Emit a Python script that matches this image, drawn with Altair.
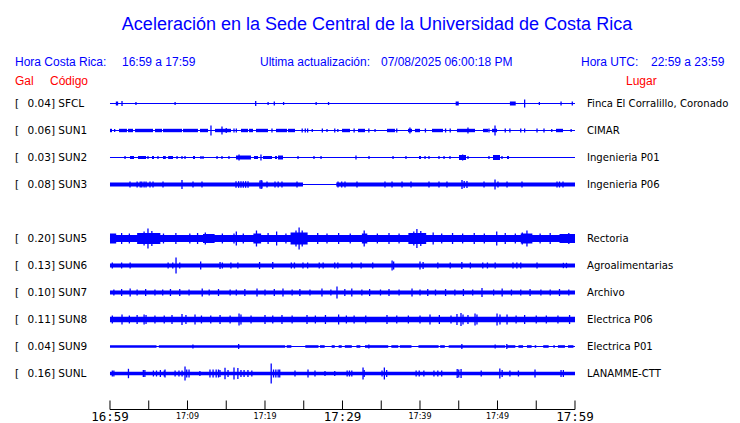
import altair as alt
import pandas as pd

BLUE = "#0000ff"
RED = "#ff0000"

# ---------------- data ----------------
stations = ["SFCL", "SUN1", "SUN2", "SUN3", "SUN5", "SUN6", "SUN7", "SUN8", "SUN9", "SUNL"]
gal_max = ["0.04", "0.06", "0.03", "0.08", "0.20", "0.13", "0.10", "0.11", "0.04", "0.16"]
places = ["Finca El Corralillo, Coronado", "CIMAR", "Ingenieria P01", "Ingenieria P06",
          "Rectoria", "Agroalimentarias", "Archivo", "Electrica P06", "Electrica P01", "LANAMME-CTT"]
slots = [0, 1, 2, 3, 5, 6, 7, 8, 9, 10]

tick_minutes = [0, 5, 10, 15, 20, 25, 30, 35, 40, 45, 50, 55, 60]
label_minutes = [0, 10, 20, 30, 40, 50, 60]
label_texts = ["16:59", "17:09", "17:19", "17:29", "17:39", "17:49", "17:59"]
label_big = [True, False, False, True, False, False, True]

# envelopes: (start minute, end minute, half amplitude) ; spikes: (minute, half amplitude)
sfcl_bands = [(0.75, 1.05, 2.0), (44.6, 45.0, 2.0), (51.6, 52.35, 2.0)]
sfcl_spikes = [(1.55, 2.5), (3.35, 1.5), (8.4, 1.5), (18.8, 2.5), (20.4, 1.5), (21.2, 2.0), (22.4, 1.5),
               (26.6, 1.5), (28.2, 1.5), (53.5, 4.0), (55.4, 1.5), (58.2, 2.0), (59.65, 2.0)]

sun1_bands = [(0.0, 0.26, 1.7), (1.16, 2.19, 1.7), (2.32, 2.97, 1.7), (3.23, 5.55, 1.7), (5.81, 6.71, 1.7),
              (6.84, 9.29, 1.7), (9.42, 11.35, 1.7), (11.61, 12.65, 1.7), (13.55, 15.61, 1.7),
              (16.9, 17.81, 1.7), (17.94, 18.45, 1.7), (18.84, 20.39, 1.7), (21.42, 22.84, 1.7),
              (22.97, 23.87, 1.7), (29.94, 30.97, 1.7), (32.0, 32.9, 1.7), (35.74, 36.77, 1.7),
              (38.45, 38.97, 1.7), (39.35, 40.0, 1.7), (41.55, 42.97, 1.7), (44.77, 47.1, 1.7),
              (48.13, 48.77, 1.7), (49.29, 49.94, 1.7), (57.55, 58.45, 1.7)]
sun1_spikes = [(0.6, 1.5), (13.03, 5.0), (14.45, 4.0), (15.0, 2.5), (16.0, 2.0), (16.3, 2.0), (20.9, 2.0),
               (24.8, 2.0), (25.2, 2.0), (25.5, 2.0), (26.1, 1.5), (27.4, 2.0), (28.0, 1.5), (29.0, 2.0),
               (29.4, 1.5), (30.1, 1.5), (31.5, 2.0), (33.4, 2.0), (34.2, 1.5), (37.0, 2.0), (38.7, 3.0),
               (40.7, 2.0), (43.3, 2.0), (43.9, 2.0), (46.19, 3.0), (48.9, 2.0), (49.68, 5.0), (51.0, 2.0),
               (51.6, 2.0), (53.0, 2.0), (53.5, 2.0), (55.1, 2.0), (56.0, 2.0), (57.0, 1.5), (59.5, 1.5)]

sun2_bands = [(2.58, 3.1, 1.5), (3.61, 4.65, 1.5), (5.42, 5.68, 1.5), (6.84, 7.2, 1.5), (7.5, 8.13, 1.5),
              (10.71, 10.97, 1.5), (16.26, 18.19, 2.0), (18.58, 19.1, 1.5), (19.74, 20.9, 1.5),
              (21.29, 21.55, 1.5), (21.68, 22.32, 2.0), (39.87, 40.13, 1.5), (45.03, 45.94, 2.5),
              (49.42, 50.32, 2.5), (51.23, 51.48, 1.5)]
sun2_spikes = [(1.94, 1.5), (4.9, 1.5), (6.19, 1.5), (8.65, 1.5), (9.29, 1.5), (9.68, 1.5), (11.74, 1.5),
               (12.0, 1.5), (13.81, 1.5), (14.45, 1.5), (15.35, 1.5), (16.65, 3.0), (19.48, 3.0),
               (24.26, 1.5), (26.32, 1.5), (27.23, 1.5), (31.74, 2.0), (33.42, 1.5), (36.52, 1.5),
               (38.19, 1.5), (40.65, 1.5), (41.16, 1.5), (42.45, 1.5), (43.1, 1.5), (43.87, 1.5),
               (45.5, 3.0), (46.19, 1.5), (48.9, 1.5), (50.58, 1.5)]

sun3_bands = [(0.0, 24.9, 2.0), (29.2, 60.0, 2.0)]
sun3_spikes = [(2.58, 3.0), (3.5, 3.0), (3.9, 3.0), (4.1, 3.0), (4.4, 3.0), (4.65, 3.0), (5.16, 3.0),
               (5.55, 3.0), (6.84, 3.0), (9.29, 4.5), (10.71, 3.0), (11.87, 3.0), (16.26, 3.3),
               (16.6, 3.3), (16.9, 3.3), (17.2, 3.3), (17.5, 3.3), (17.81, 3.3), (19.35, 4.0),
               (19.5, 4.5), (19.61, 4.0), (20.26, 3.0), (21.29, 3.0), (21.7, 3.0), (22.19, 3.0),
               (24.13, 3.0), (29.42, 3.0), (29.9, 3.0), (30.32, 3.0), (31.87, 3.0), (35.48, 3.0),
               (36.39, 3.0), (37.68, 3.0), (38.84, 3.0), (41.16, 3.0), (42.45, 3.0), (43.48, 3.0),
               (45.42, 4.5), (45.7, 3.5), (46.06, 3.5), (48.26, 3.0), (49.68, 5.0), (50.06, 3.0),
               (51.23, 3.0), (53.16, 3.0), (57.68, 3.0), (58.0, 3.0), (58.45, 3.0)]

sun5_bands = [(0.0, 60.0, 3.5), (0.0, 0.8, 5.0), (3.5, 6.5, 5.5), (12.0, 13.5, 4.5), (18.5, 19.5, 5.0),
              (23.3, 25.5, 6.0), (32.5, 33.2, 5.0), (38.5, 40.8, 5.5), (53.0, 54.5, 5.0), (58.0, 60.0, 4.5)]
sun5_spikes = [(4.9, 10.0), (4.4, 7.0), (5.4, 7.5), (16.3, 7.0), (18.9, 8.0), (21.5, 7.0), (24.4, 11.0),
               (24.0, 8.0), (24.8, 8.0), (32.8, 8.0), (39.6, 9.5), (39.2, 7.0), (40.1, 7.5), (41.7, 6.0),
               (49.9, 7.0), (53.8, 8.0), (53.2, 6.0), (1.5, 5.5), (2.5, 5.0), (6.9, 5.0), (8.5, 5.5),
               (10.3, 5.0), (11.3, 5.5), (12.3, 6.0), (14.5, 5.0), (16.0, 5.0), (17.2, 5.0), (20.4, 5.5),
               (22.7, 5.0), (26.8, 5.5), (28.0, 5.0), (29.5, 5.5), (31.0, 5.0), (34.5, 5.0), (36.0, 5.5),
               (37.3, 5.0), (42.8, 5.0), (44.2, 5.5), (45.5, 5.0), (47.0, 5.5), (48.3, 5.0), (51.0, 5.5),
               (52.3, 5.0), (55.5, 5.0), (56.8, 5.5), (59.2, 5.5)]

sun6_bands = [(0.0, 60.0, 2.0)]
sun6_spikes = [(0.3, 3.0), (1.5, 3.0), (2.6, 3.0), (7.5, 3.0), (8.1, 3.0), (8.52, 8.0), (9.0, 3.0),
               (11.7, 4.0), (14.2, 3.5), (14.5, 3.0), (15.6, 3.0), (16.5, 3.0), (19.3, 3.5), (21.0, 3.5),
               (23.4, 3.0), (23.8, 3.0), (24.9, 3.0), (25.5, 3.0), (27.0, 3.0), (27.5, 3.0), (29.0, 3.0),
               (29.4, 3.0), (31.2, 3.0), (32.4, 3.0), (33.9, 3.0), (36.4, 5.0), (36.6, 4.0), (40.0, 4.0),
               (40.4, 3.5), (42.3, 3.0), (43.9, 3.0), (45.4, 3.5), (46.5, 3.0), (48.1, 3.0), (48.7, 3.0),
               (49.7, 3.0), (52.0, 3.0), (52.5, 3.0), (53.0, 3.0), (55.1, 3.0), (58.5, 2.7), (58.9, 2.7)]

sun7_bands = [(0.0, 60.0, 2.0)]
sun7_spikes = [(0.5, 3.0), (1.5, 3.5), (2.6, 4.0), (3.5, 3.0), (4.6, 3.5), (5.8, 3.0), (6.8, 3.0),
               (7.8, 3.5), (9.0, 3.5), (10.2, 3.0), (11.9, 4.0), (12.8, 3.0), (14.0, 3.5), (15.5, 3.0),
               (16.3, 3.0), (17.4, 3.5), (18.97, 4.0), (20.0, 3.0), (21.2, 3.5), (22.32, 4.0), (23.5, 3.0),
               (24.5, 3.5), (25.8, 3.0), (27.35, 4.0), (28.5, 3.0), (29.29, 6.0), (30.3, 3.5), (31.2, 4.0),
               (32.5, 3.0), (33.5, 3.5), (34.9, 3.0), (36.0, 3.5), (37.3, 3.0), (38.97, 4.0), (40.0, 3.0),
               (41.0, 3.5), (42.0, 3.0), (43.3, 3.5), (44.5, 3.0), (45.6, 3.5), (46.8, 3.0), (48.0, 4.5),
               (49.5, 3.0), (50.6, 4.0), (51.8, 3.0), (53.0, 3.0), (54.2, 3.5), (55.6, 3.0), (56.8, 3.0),
               (58.0, 3.5), (59.2, 3.0)]

sun8_bands = [(0.0, 60.0, 2.7)]
sun8_spikes = [(0.3, 4.0), (1.55, 5.0), (2.5, 4.0), (3.5, 4.5), (4.4, 5.0), (4.65, 4.5), (5.8, 4.0),
               (7.0, 4.0), (8.0, 4.5), (9.29, 5.5), (9.8, 4.5), (10.97, 5.0), (11.8, 4.0), (13.0, 4.0),
               (14.2, 4.5), (15.5, 4.0), (16.65, 6.0), (16.9, 5.0), (18.2, 4.0), (20.0, 4.5), (21.0, 4.0),
               (22.19, 4.5), (23.5, 4.0), (25.42, 4.5), (26.5, 4.0), (27.8, 4.5), (29.5, 5.0), (30.5, 4.0),
               (31.5, 4.0), (33.0, 4.0), (35.74, 4.5), (37.0, 4.0), (38.5, 4.0), (40.0, 4.0), (41.29, 5.0),
               (42.5, 4.5), (44.0, 4.0), (44.77, 5.5), (45.29, 6.5), (45.55, 5.0), (46.19, 4.5), (47.1, 6.0),
               (47.35, 5.0), (49.94, 6.0), (50.32, 5.0), (51.23, 5.0), (52.4, 4.0), (53.5, 4.5), (55.0, 4.0),
               (56.3, 4.0), (57.8, 4.0), (59.3, 4.5)]

sun9_bands = [(0.0, 6.0, 1.3), (6.3, 22.6, 1.3), (22.8, 23.4, 1.3), (25.2, 26.9, 1.3), (27.1, 27.7, 1.3),
              (28.6, 29.0, 1.3), (29.5, 29.9, 1.3), (30.3, 31.2, 1.3), (31.8, 32.3, 1.3), (32.9, 35.9, 1.3),
              (36.3, 37.2, 1.3), (37.4, 38.9, 1.3), (39.8, 42.4, 1.3), (42.6, 43.2, 1.3), (43.7, 51.0, 1.3),
              (51.2, 52.3, 1.3), (52.7, 53.3, 1.3), (53.8, 54.4, 1.3), (54.8, 55.0, 1.3), (55.9, 56.6, 1.3),
              (57.2, 57.4, 1.3), (57.8, 58.7, 1.3), (59.1, 59.8, 1.3)]
sun9_spikes = [(10.7, 2.0), (16.6, 2.5), (33.4, 2.0), (45.4, 2.5), (49.7, 2.0), (51.2, 2.5)]

sunl_bands = [(0.0, 60.0, 1.8)]
sunl_spikes = [(0.3, 3.0), (0.5, 3.0), (2.38, 4.7), (4.3, 3.5), (4.5, 3.5), (5.6, 3.0), (6.0, 3.0),
               (6.5, 3.5), (7.0, 3.0), (7.1, 4.0), (8.4, 3.0), (8.9, 3.0), (9.3, 3.0), (9.68, 7.0),
               (9.9, 4.0), (10.2, 4.0), (11.6, 2.5), (12.9, 4.0), (13.3, 4.0), (13.7, 4.0), (14.0, 4.0),
               (14.19, 3.5), (14.84, 5.7), (15.23, 3.5), (16.0, 6.0), (16.5, 5.5), (16.9, 3.5), (17.3, 3.5),
               (17.8, 3.5), (18.3, 3.0), (20.8, 10.0), (21.1, 4.0), (21.4, 4.0), (21.7, 4.0), (21.9, 4.0),
               (23.87, 3.0), (25.55, 4.0), (26.45, 3.0), (27.74, 2.5), (29.0, 2.5), (30.6, 3.0), (30.9, 3.0),
               (31.2, 3.0), (32.65, 6.0), (32.8, 3.5), (35.1, 3.0), (35.4, 6.0), (35.7, 3.5), (39.5, 3.0),
               (39.9, 3.0), (40.5, 3.0), (41.8, 3.0), (42.3, 3.0), (42.8, 3.0), (44.8, 4.5), (45.0, 4.0),
               (45.3, 4.5), (47.9, 3.0), (50.3, 5.0), (50.6, 3.5), (51.6, 3.0), (52.7, 3.0), (54.84, 4.0),
               (58.2, 3.5), (58.5, 3.5)]

BANDS = {"SFCL": sfcl_bands, "SUN1": sun1_bands, "SUN2": sun2_bands, "SUN3": sun3_bands,
         "SUN5": sun5_bands, "SUN6": sun6_bands, "SUN7": sun7_bands, "SUN8": sun8_bands,
         "SUN9": sun9_bands, "SUNL": sunl_bands}
SPIKES = {"SFCL": sfcl_spikes, "SUN1": sun1_spikes, "SUN2": sun2_spikes, "SUN3": sun3_spikes,
          "SUN5": sun5_spikes, "SUN6": sun6_spikes, "SUN7": sun7_spikes, "SUN8": sun8_spikes,
          "SUN9": sun9_spikes, "SUNL": sunl_spikes}

# ---------------- layout ----------------
W, H = 724, 415
ROW0, ROW_STEP = 95.5, 27
AXIS_Y = 401.5
xs = alt.Scale(domain=[-13.161, 80.258], nice=False, zero=False)
ys = alt.Scale(domain=[0, H], reverse=True, nice=False, zero=False)

base_rec, band_rec, spike_rec, lab_rec = [], [], [], []
for code, g, place, slot in zip(stations, gal_max, places, slots):
    c = ROW0 + ROW_STEP * slot
    base_rec.append(dict(code=code, t0=0, t1=60, yc=c))
    lab_rec.append(dict(code=code, left=f"{g}] {code}", place=place, yc=c))
    for t0, t1, h in BANDS[code]:
        band_rec.append(dict(code=code, t0=t0, t1=t1, lo=c - h, hi=c + h))
    for t, h in SPIKES[code]:
        spike_rec.append(dict(code=code, t=t, lo=c - h, hi=c + h))

base_df = pd.DataFrame(base_rec)
band_df = pd.DataFrame(band_rec)
spike_df = pd.DataFrame(spike_rec)
lab_df = pd.DataFrame(lab_rec)

X = lambda f: alt.X(f, scale=xs, axis=None)
Y = lambda f: alt.Y(f, scale=ys, axis=None)

baselines = alt.Chart(base_df).mark_rule(color=BLUE, strokeWidth=1).encode(
    x=X("t0:Q"), x2="t1:Q", y=Y("yc:Q"))
bands = alt.Chart(band_df).mark_rect(color=BLUE).encode(
    x=X("t0:Q"), x2="t1:Q", y=Y("lo:Q"), y2="hi:Q")
spikes = alt.Chart(spike_df).mark_rule(color=BLUE, strokeWidth=1.3).encode(
    x=X("t:Q"), y=Y("lo:Q"), y2="hi:Q")

LBL_FONT = 10.5
bracket = alt.Chart(lab_df).mark_text(align="left", baseline="middle", font="DejaVu Sans",
                                      fontSize=LBL_FONT, color="black").encode(
    x=alt.value(7), y=Y("yc:Q"), text=alt.value("["))
left_lab = alt.Chart(lab_df).mark_text(align="left", baseline="middle", font="DejaVu Sans",
                                       fontSize=LBL_FONT, color="black").encode(
    x=alt.value(19.5), y=Y("yc:Q"), text="left:N")
place_lab = alt.Chart(lab_df).mark_text(align="left", baseline="middle", font="DejaVu Sans",
                                        fontSize=10.1, color="black").encode(
    x=alt.value(579), y=Y("yc:Q"), text="place:N")

# time axis drawn from the same x scale
axis_df = pd.DataFrame({"t0": [0], "t1": [60], "y": [AXIS_Y]})
axis_line = alt.Chart(axis_df).mark_rule(color="black", strokeWidth=1).encode(
    x=X("t0:Q"), x2="t1:Q", y=Y("y:Q"))
tick_df = pd.DataFrame({"t": tick_minutes, "lo": [AXIS_Y - 9] * len(tick_minutes), "hi": [AXIS_Y] * len(tick_minutes)})
ticks = alt.Chart(tick_df).mark_rule(color="black", strokeWidth=1).encode(
    x=X("t:Q"), y=Y("lo:Q"), y2="hi:Q")
lab_t = pd.DataFrame({"t": label_minutes, "txt": label_texts, "big": label_big})
big_labels = alt.Chart(lab_t[lab_t.big]).mark_text(align="center", baseline="alphabetic",
                                                   font="DejaVu Sans Mono", fontSize=12.5, color="black").encode(
    x=X("t:Q"), y=alt.value(413), text="txt:N")
small_labels = alt.Chart(lab_t[~lab_t.big]).mark_text(align="center", baseline="alphabetic",
                                                      font="DejaVu Sans", fontSize=8, color="black").encode(
    x=X("t:Q"), y=alt.value(410.7), text="txt:N")


def txt(s, x, y, size, color, align="left", font="Liberation Sans"):
    return alt.Chart(pd.DataFrame({"s": [s]})).mark_text(
        align=align, baseline="alphabetic", font=font, fontSize=size, color=color).encode(
        x=alt.value(x), y=alt.value(y), text="s:N")


headers = [
    txt("Aceleración en la Sede Central de la Universidad de Costa Rica", 369, 21.5, 18, BLUE, align="center"),
    txt("Hora Costa Rica:", 7, 57.7, 12, BLUE),
    txt("16:59 a 17:59", 114, 57.7, 12, BLUE),
    txt("Ultima actualización:", 252, 57.7, 12, BLUE),
    txt("07/08/2025 06:00:18 PM", 373, 57.7, 12, BLUE),
    txt("Hora UTC:", 573, 57.7, 12, BLUE),
    txt("22:59 a 23:59", 643, 57.7, 12, BLUE),
    txt("Gal", 7, 76.8, 12, RED),
    txt("Código", 42, 76.8, 12, RED),
    txt("Lugar", 618, 76.8, 12, RED),
]

chart = alt.layer(
    baselines, bands, spikes, bracket, left_lab, place_lab,
    axis_line, ticks, big_labels, small_labels, *headers
).properties(
    width=W, height=H, padding=0, autosize=alt.AutoSizeParams(type="none")
).configure_view(stroke=None)

chart.save("out.html", embed_options={"renderer": "svg", "actions": False})
